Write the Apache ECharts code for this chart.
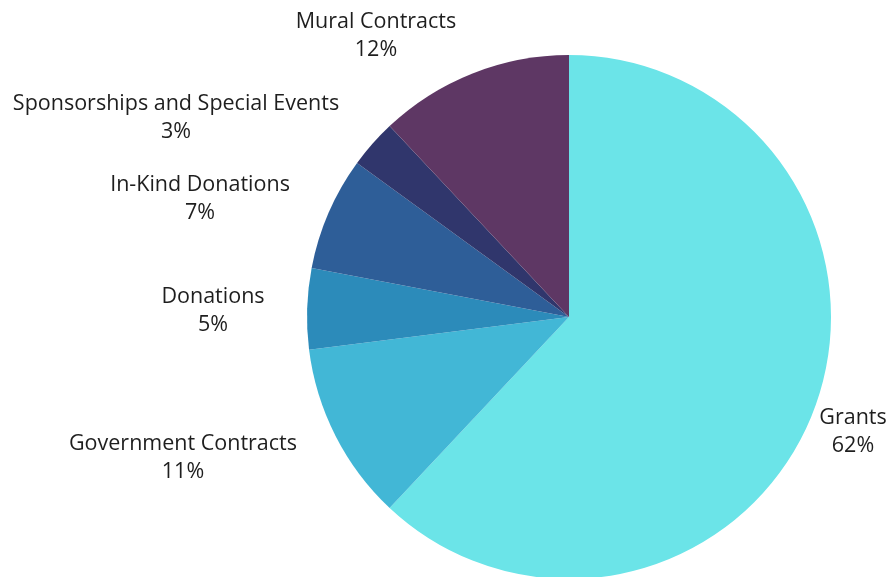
<!DOCTYPE html>
<html>
<head>
<meta charset="utf-8">
<script src="https://cdn.jsdelivr.net/npm/echarts@6/dist/echarts.min.js"></script>
<style>
  html, body { margin: 0; padding: 0; background: #fff; }
  #chart { width: 889px; height: 577px; }
</style>
</head>
<body>
<div id="chart"></div>
<script>
// revenue sources, clockwise from 12 o'clock
const categories = ['Grants', 'Government Contracts', 'Donations', 'In-Kind Donations', 'Sponsorships and Special Events', 'Mural Contracts']
const shares = [62, 11, 5, 7, 3, 12]
const colors = ['#6be4e8', '#42b7d6', '#2c8bba', '#2e5e98', '#30366c', '#5e3764']

// where each label block sits (centre of the two text lines)
const labelAnchors = [[853, 432], [183, 458], [213, 311], [200, 199], [176, 118], [376, 36]]

const chart = echarts.init(document.getElementById('chart'))
chart.setOption({
  animation: false,
  series: [
    {
      type: 'pie',
      center: [569, 317],
      radius: 262,
      startAngle: 90,
      clockwise: true,
      avoidLabelOverlap: false,
      data: categories.map((name, i) => ({
        name: name,
        value: shares[i],
        itemStyle: { color: colors[i] }
      })),
      label: {
        show: true,
        position: 'outside',
        formatter: (p) => p.name + '\n' + p.value + '%',
        fontFamily: 'Open Sans',
        fontSize: 21.5,
        lineHeight: 28,
        color: '#1e1e1e',
        align: 'center'
      },
      labelLine: { show: false },
      labelLayout: (params) => {
        const a = labelAnchors[params.dataIndex]
        return { x: a[0], y: a[1], align: 'center', verticalAlign: 'middle' }
      }
    }
  ]
})
</script>
</body>
</html>
